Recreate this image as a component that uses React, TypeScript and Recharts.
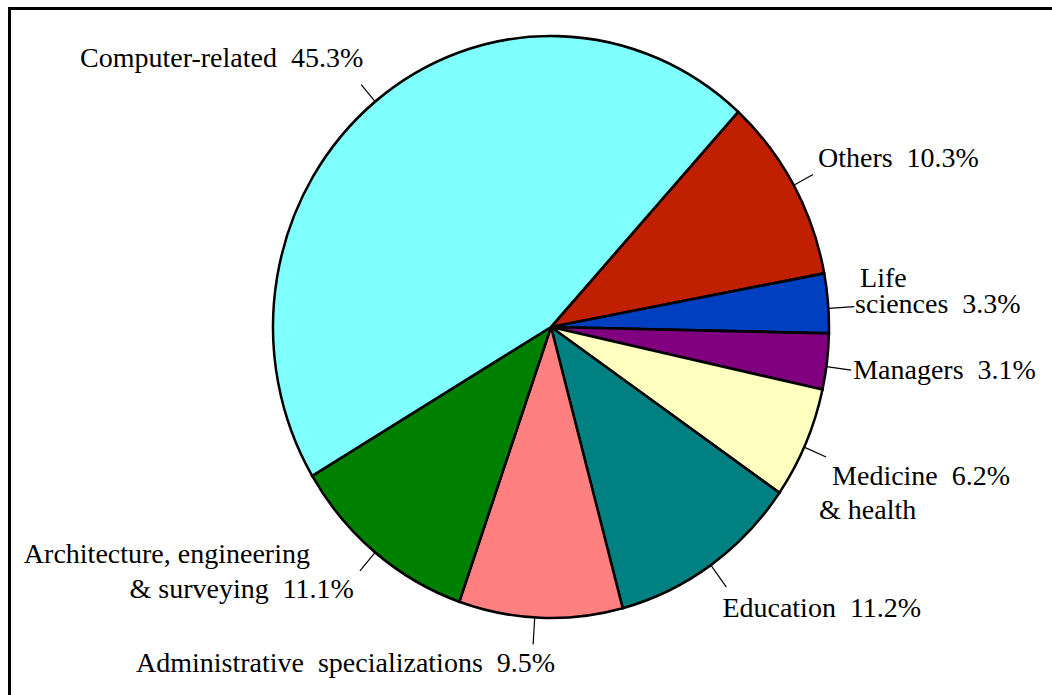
import React from 'react';
import { PieChart, Pie, Cell, Sector } from 'recharts';

// shares of each field, clockwise from "Others"
const categories = [
    'Others',
    'Life sciences',
    'Managers',
    'Medicine & health',
    'Education',
    'Administrative specializations',
    'Architecture, engineering & surveying',
    'Computer-related',
];
const shares = [10.3, 3.3, 3.1, 6.2, 11.2, 9.5, 11.1, 45.3];
const labelLines = [
    ['Others  10.3%'],
    ['Life', 'sciences  3.3%'],
    ['Managers  3.1%'],
    ['Medicine  6.2%', '& health'],
    ['Education  11.2%'],
    ['Administrative  specializations  9.5%'],
    ['Architecture, engineering', '& surveying  11.1%'],
    ['Computer-related  45.3%'],
];
const colors = ['#C02000', '#0040C0', '#800080', '#FFFFC0', '#008080', '#FF8080', '#008000', '#80FFFF'];

const data = categories.map((name, i) => ({ name, value: shares[i] }));

// label placement relative to the leader line end
type LineLayout = { dx: number; dy: number; anchor: 'start' | 'end' | 'middle' };
const labelLayout: { dAngle: number; len: number; lines: LineLayout[] }[] = [
    { dAngle: 0, len: 22, lines: [{ dx: 5, dy: -7.5, anchor: 'start' }] },
    { dAngle: -1, len: 26, lines: [{ dx: 5.7, dy: -19.5, anchor: 'start' }, { dx: 0.7, dy: 6.4, anchor: 'start' }] },
    { dAngle: -1, len: 25, lines: [{ dx: 2, dy: 9, anchor: 'start' }] },
    { dAngle: -0.8, len: 24, lines: [{ dx: 6, dy: 28, anchor: 'start' }, { dx: -7, dy: 62, anchor: 'start' }] },
    { dAngle: 0, len: 27, lines: [{ dx: -4, dy: 30, anchor: 'start' }] },
    { dAngle: -1.2, len: 27, lines: [{ dx: 22, dy: 28, anchor: 'end' }] },
    { dAngle: 0, len: 24, lines: [{ dx: -50, dy: -8, anchor: 'end' }, { dx: -6, dy: 27, anchor: 'end' }] },
    { dAngle: 0, len: 22, lines: [{ dx: 2, dy: -17.5, anchor: 'end' }] },
];

const RAD = Math.PI / 180;
const SCALE_Y = 291 / 278; // the original pie is slightly taller than wide
const FONT = '"Liberation Serif", "Times New Roman", serif';

const EllipseSector = (props: any) => {
    const { cy } = props;
    return (
        <g transform={`translate(0 ${cy}) scale(1 ${SCALE_Y}) translate(0 ${-cy})`}>
            <Sector {...props} />
        </g>
    );
};

const renderLabel = (props: any) => {
    const { cx, cy, midAngle, outerRadius, index } = props;
    const lay = labelLayout[index];
    const a = (midAngle + lay.dAngle) * RAD;
    const sx = cx + outerRadius * Math.cos(a);
    const sy = cy - outerRadius * SCALE_Y * Math.sin(a);
    const ex = sx + lay.len * Math.cos(a);
    const ey = sy - lay.len * Math.sin(a);
    return (
        <g key={`lbl-${index}`}>
            <line x1={sx} y1={sy} x2={ex} y2={ey} stroke="#000" strokeWidth={1.2} />
            {labelLines[index].map((txt, j) => (
                <text
                    key={j}
                    x={ex + lay.lines[j].dx}
                    y={ey + lay.lines[j].dy}
                    textAnchor={lay.lines[j].anchor}
                    fill="#000"
                    fontSize={28}
                    fontFamily={FONT}
                    style={{ whiteSpace: 'pre', fontFamily: FONT, fontSize: 28 }}
                >
                    {txt}
                </text>
            ))}
        </g>
    );
};

export default function App() {
    return (
        <div
            style={{
                position: 'relative',
                width: 1052,
                height: 695,
                overflow: 'hidden',
                background: '#fff',
                fontFamily: FONT,
            }}
        >
            <style>{'body{margin:0;overflow:hidden}'}</style>
            <div
                style={{
                    position: 'absolute',
                    left: 8,
                    top: 7,
                    width: 1100,
                    height: 750,
                    borderLeft: '3px solid #000',
                    borderTop: '3px solid #000',
                }}
            />
            <div style={{ position: 'absolute', left: 0, top: 0 }}>
                <PieChart width={1052} height={695} margin={{ top: 0, right: 0, bottom: 0, left: 0 }}>
                    <Pie
                        data={data}
                        dataKey="value"
                        nameKey="name"
                        cx={551}
                        cy={327}
                        outerRadius={278}
                        startAngle={47.7}
                        endAngle={-312.3}
                        stroke="#000"
                        strokeWidth={2.5}
                        label={renderLabel}
                        labelLine={false}
                        shape={EllipseSector}
                        isAnimationActive={false}
                    >
                        {data.map((d, i) => (
                            <Cell key={d.name} fill={colors[i]} />
                        ))}
                    </Pie>
                </PieChart>
            </div>
        </div>
    );
}
